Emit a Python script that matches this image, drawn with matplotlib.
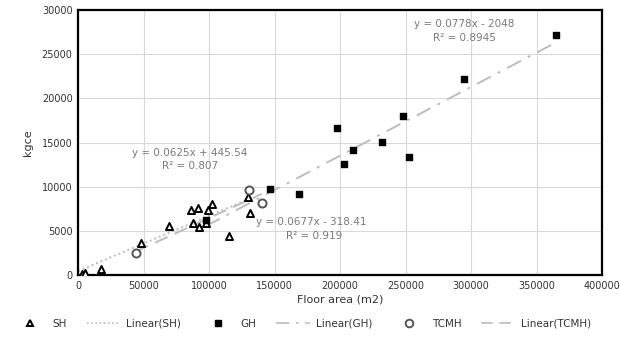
import numpy as np
import matplotlib
matplotlib.use("Agg")
import matplotlib.pyplot as plt
from matplotlib.lines import Line2D

# SH (triangles)
sh_area = [3000, 5000, 17500, 48000, 69700, 86500, 91400, 87500, 92000, 99000,
           102000, 98000, 115500, 129500, 131000]
sh_kgce = [100, 200, 700, 3600, 5550, 7360, 7600, 5850, 5470, 7360,
           8040, 5900, 4400, 8870, 7060]

# GH (squares)
gh_area = [97500, 146600, 168700, 198000, 203300, 210000, 231800, 248300,
           252900, 294700, 364900]
gh_kgce = [6230, 9780, 9170, 16700, 12570, 14150, 15100, 18000, 13400,
           22200, 27200]

# TCMH (circles)
tc_area = [44000, 130500, 140200]
tc_kgce = [2530, 9590, 8120]

# trendline coefficients as printed on the chart
sh_fit = (0.0625, 445.54, 0.807)
gh_fit = (0.0778, -2048, 0.8945)
tc_fit = (0.0677, -318.41, 0.919)

x_ticks = np.arange(0, 400001, 50000)
y_ticks = np.arange(0, 30001, 5000)

txt = "#7a7a7a"
trend = "#bdbdbd"

fig = plt.figure(figsize=(6.2, 3.37), dpi=100)
ax = fig.add_axes([0.126, 0.184, 0.845, 0.786])


def fit_line(xs, fit):
    xx = np.array([min(xs), max(xs)])
    return xx, fit[0] * xx + fit[1]


ax.plot(*fit_line([0] + sh_area, sh_fit), color=trend, lw=1.4, ls=(0, (1, 1.5)), zorder=2)
ax.plot(*fit_line(gh_area, gh_fit), color=trend, lw=1.4, ls=(0, (8, 4, 1.5, 4)), zorder=2)
ax.plot(*fit_line(tc_area, tc_fit), color=trend, lw=1.4, ls=(0, (7, 4)), zorder=2)

ax.scatter(sh_area, sh_kgce, marker="^", s=26, facecolor="white", edgecolor="black",
           linewidth=1.4, zorder=3)
ax.scatter(gh_area, gh_kgce, marker="s", s=24, color="black", zorder=4)
ax.scatter(tc_area, tc_kgce, marker="o", s=34, facecolor="white", edgecolor="#555555",
           linewidth=1.4, zorder=3)

fs = 7.5
ax.text(85500, 13800, "y = 0.0625x + 445.54", color=txt, fontsize=fs, ha="center", va="center")
ax.text(85500, 12300, "R² = 0.807", color=txt, fontsize=fs, ha="center", va="center")
ax.text(178000, 6000, "y = 0.0677x - 318.41", color=txt, fontsize=fs, ha="center", va="center")
ax.text(180000, 4400, "R² = 0.919", color=txt, fontsize=fs, ha="center", va="center")
ax.text(295000, 28400, "y = 0.0778x - 2048", color=txt, fontsize=fs, ha="center", va="center")
ax.text(295000, 26800, "R² = 0.8945", color=txt, fontsize=fs, ha="center", va="center")

ax.set_xlim(0, 400000)
ax.set_ylim(0, 30000)
ax.set_xticks(x_ticks)
ax.set_yticks(y_ticks)
ax.tick_params(labelsize=7, colors="#333333", length=0, pad=4)
ax.grid(True, color="#d9d9d9", lw=0.8)
ax.set_axisbelow(True)
for sp in ax.spines.values():
    sp.set_color("black")
    sp.set_linewidth(1.6)

ax.set_xlabel("Floor area (m2)", fontsize=8, color="#333333", labelpad=3)
ax.set_ylabel("kgce", fontsize=8, color="#333333", labelpad=6)

handles = [
    Line2D([], [], marker="^", ls="none", markersize=5, markerfacecolor="white",
           markeredgecolor="black", markeredgewidth=1.4),
    Line2D([], [], color=trend, lw=1.2, ls=(0, (1, 1.5))),
    Line2D([], [], marker="s", ls="none", markersize=5, color="black"),
    Line2D([], [], color=trend, lw=1.2, ls=(0, (8, 4, 1.5, 4))),
    Line2D([], [], marker="o", ls="none", markersize=5.5, markerfacecolor="white",
           markeredgecolor="#555555", markeredgewidth=1.4),
    Line2D([], [], color=trend, lw=1.2, ls=(0, (7, 4))),
]
labels = ["SH", "Linear(SH)", "GH", "Linear(GH)", "TCMH", "Linear(TCMH)"]
fig.legend(handles, labels, loc="center", bbox_to_anchor=(0.487, 0.04), ncol=6,
           frameon=False, fontsize=7.5, handlelength=3.2, columnspacing=1.9,
           handletextpad=0.6, labelcolor="#333333")

fig.savefig("out.png", dpi=100)
